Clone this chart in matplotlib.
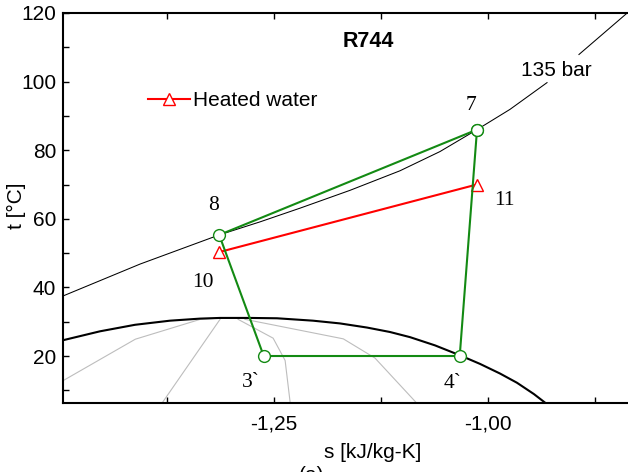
import numpy as np
import matplotlib
matplotlib.use("Agg")
import matplotlib.pyplot as plt
from matplotlib.ticker import FixedLocator, MultipleLocator, FuncFormatter

plt.rcParams['font.family'] = ['Liberation Sans', 'DejaVu Sans']

# cycle state points (s [kJ/kg-K], t [C]) : 7 -> 8 -> 3` -> 4` -> 7
cycle_s = [-1.0128, -1.314, -1.262, -1.033, -1.0128]
cycle_t = [86.0, 55.3, 20.0, 20.0, 86.0]

# heated water 10 -> 11
water_s = [-1.314, -1.013]
water_t = [50.3, 70.0]

# saturation dome
dome_s = [-1.4965, -1.4533, -1.4124, -1.3715, -1.3364, -1.3131, -1.2780, -1.2465,
          -1.2044, -1.1729, -1.1414, -1.1145, -1.0911, -1.0619, -1.0327, -1.0093,
          -0.9860, -0.9661, -0.9463, -0.9276]
dome_t = [24.6, 27.2, 29.1, 30.3, 30.9, 31.1, 31.1, 31.0,
          30.3, 29.5, 28.3, 27.0, 25.5, 23.1, 20.2, 17.7,
          14.9, 12.2, 8.9, 5.3]

# 135 bar isobar (gap for the label)
iso_s = [-1.4965, -1.4065, -1.314, -1.2664, -1.2196, -1.1612, -1.1028, -1.0561,
         -1.0128, -0.9743, -0.931, np.nan, -0.8937, -0.8364]
iso_t = [37.5, 46.8, 55.3, 59.1, 63.1, 68.3, 74.0, 79.6,
         86.0, 91.9, 99.7, np.nan, 107.9, 120.2]

# grey lines inside the dome
grey_lines = [
    ([-1.4965, -1.412, -1.336, -1.317], [12.8, 24.9, 30.7, 31.0]),
    ([-1.381, -1.313], [6.2, 30.7]),
    ([-1.292, -1.251, -1.237, -1.231], [30.7, 25.2, 18.7, 6.2]),
    ([-1.284, -1.169, -1.132, -1.083], [30.7, 25.0, 19.4, 6.2]),
]

# point labels (text, s, t at baseline)
point_labels = [("7", -1.0199, 91.8), ("8", -1.3201, 62.6), ("10", -1.3329, 40.1),
                ("11", -0.9813, 64.1), ("3`", -1.2769, 10.85), ("4`", -1.0409, 10.55)]

fig = plt.figure(figsize=(6.28, 4.72), dpi=100)
ax = fig.add_axes([63 / 628, 1 - 403 / 472, 1 - 63 / 628, (403 - 13) / 472])

for gs, gt in grey_lines:
    ax.plot(gs, gt, color='#bdbdbd', lw=0.8, zorder=1)
ax.plot(dome_s, dome_t, color='black', lw=1.5, zorder=2)
ax.plot(iso_s, iso_t, color='black', lw=0.75, zorder=2)

ax.plot(cycle_s, cycle_t, color='#138a13', lw=1.5, marker='o', ms=8.5,
        mfc='white', mec='#138a13', mew=1, zorder=4)
ax.plot(water_s, water_t, color='red', lw=1.5, marker='^', ms=9,
        mfc='white', mec='red', mew=1, zorder=3, label='Heated water')

for txt, xs, yt in point_labels:
    ax.text(xs, yt, txt, ha='center', va='baseline', fontsize=15.5,
            family=['Liberation Serif', 'DejaVu Serif'])

ax.text(-1.1402, 110.0, "R744", ha='center', va='baseline', fontsize=15.5,
        fontweight='bold')
ax.text(-0.9206, 101.5, "135 bar", ha='center', va='baseline', fontsize=15)

ax.legend(loc='center left', bbox_to_anchor=((148 - 63) / 565, (403 - 101) / 390),
          frameon=False, fontsize=15, borderpad=0, borderaxespad=0,
          handlelength=2.0, handletextpad=0.15, numpoints=1)

ax.set_xlim(-1.4965, -0.8364)
ax.set_ylim(6.3, 120)

ax.xaxis.set_major_locator(FixedLocator([-1.5, -1.25, -1.0, -0.75]))
ax.xaxis.set_minor_locator(MultipleLocator(0.125))
ax.xaxis.set_major_formatter(FuncFormatter(lambda v, p: f"{v:.2f}".replace('.', ',')))
ax.yaxis.set_major_locator(MultipleLocator(20))
ax.yaxis.set_minor_locator(MultipleLocator(10))

ax.tick_params(which='both', direction='in', top=True, right=False, width=1,
               labelsize=15)
ax.tick_params(which='major', length=4)
ax.tick_params(which='minor', length=4)
ax.tick_params(axis='x', pad=8)
ax.tick_params(axis='y', pad=5)

for side in ['left', 'top', 'bottom']:
    ax.spines[side].set_linewidth(1.5)
ax.spines['right'].set_visible(False)

fig.text(373 / 628, 1 - 452 / 472, "s [kJ/kg-K]", ha='center', va='center', fontsize=15)
fig.text(16 / 628, 1 - 206 / 472, "t [°C]", ha='center', va='center', fontsize=15,
         rotation=90)
fig.text(312 / 628, 1 - 466 / 472, "(a)", ha='center', va='top', fontsize=15)

fig.savefig("out.png", dpi=100)
